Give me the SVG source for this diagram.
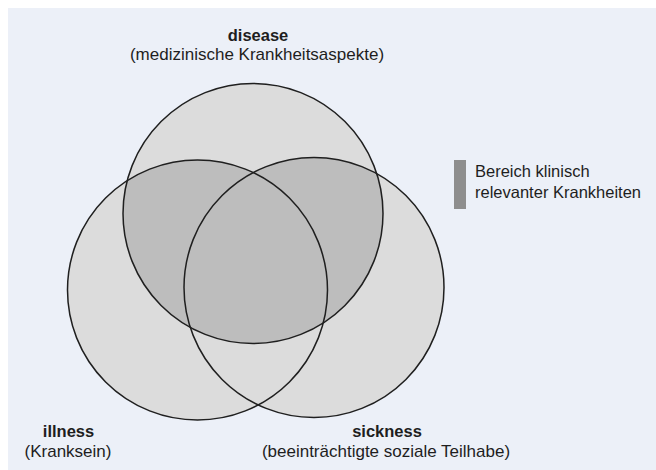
<svg xmlns="http://www.w3.org/2000/svg" xmlns:xlink="http://www.w3.org/1999/xlink" width="656" height="470" viewBox="0 0 656 470">
  <style>
    .lbl { font-family: "Liberation Sans", Arial, sans-serif; font-size: 17px; fill: #1e1e1e; text-anchor: middle; }
    .ttl { font-weight: bold; font-size: 16.5px; }
    .leg { font-family: "Liberation Sans", Arial, sans-serif; font-size: 16.5px; fill: #1e1e1e; }
    .area { fill: #dcdcdc; stroke: none; }
    .core { fill: #bdbdbd; stroke: none; }
    .ring { fill: none; stroke: #1f1f1f; stroke-width: 1.5; }
  </style>
  <defs>
    <circle id="c-disease" cx="253" cy="213.5" r="130"/>
    <circle id="c-illness" cx="197.5" cy="290" r="130"/>
    <circle id="c-sickness" cx="314" cy="287.5" r="130"/>
    <clipPath id="clip-disease">
      <use xlink:href="#c-disease"/>
    </clipPath>
  </defs>

  <!-- page panel -->
  <rect x="0" y="0" width="656" height="470" fill="#ffffff"/>
  <rect x="8" y="8" width="648" height="462" fill="#ecf0f8"/>

  <!-- circle areas -->
  <g id="disease">
    <use xlink:href="#c-disease" class="area"/>
    <text class="lbl ttl" x="258" y="41">disease</text>
    <text class="lbl" x="257" y="60">(medizinische Krankheitsaspekte)</text>
  </g>
  <g id="illness">
    <use xlink:href="#c-illness" class="area"/>
    <text class="lbl ttl" x="68.5" y="437">illness</text>
    <text class="lbl" x="68" y="457">(Kranksein)</text>
  </g>
  <g id="sickness">
    <use xlink:href="#c-sickness" class="area"/>
    <text class="lbl ttl" x="387" y="437">sickness</text>
    <text class="lbl" x="386" y="457">(beeinträchtigte soziale Teilhabe)</text>
  </g>

  <!-- clinically relevant region: disease overlapping illness or sickness -->
  <g id="clinical-region" clip-path="url(#clip-disease)">
    <use xlink:href="#c-illness" class="core"/>
    <use xlink:href="#c-sickness" class="core"/>
  </g>

  <!-- outlines -->
  <g id="outlines">
    <use xlink:href="#c-disease" class="ring"/>
    <use xlink:href="#c-illness" class="ring"/>
    <use xlink:href="#c-sickness" class="ring"/>
  </g>

  <!-- legend -->
  <g id="legend">
    <rect x="454" y="160" width="12" height="49" fill="#8e8e8e"/>
    <text class="leg" x="475" y="177">Bereich klinisch</text>
    <text class="leg" x="475" y="198">relevanter Krankheiten</text>
  </g>
</svg>
